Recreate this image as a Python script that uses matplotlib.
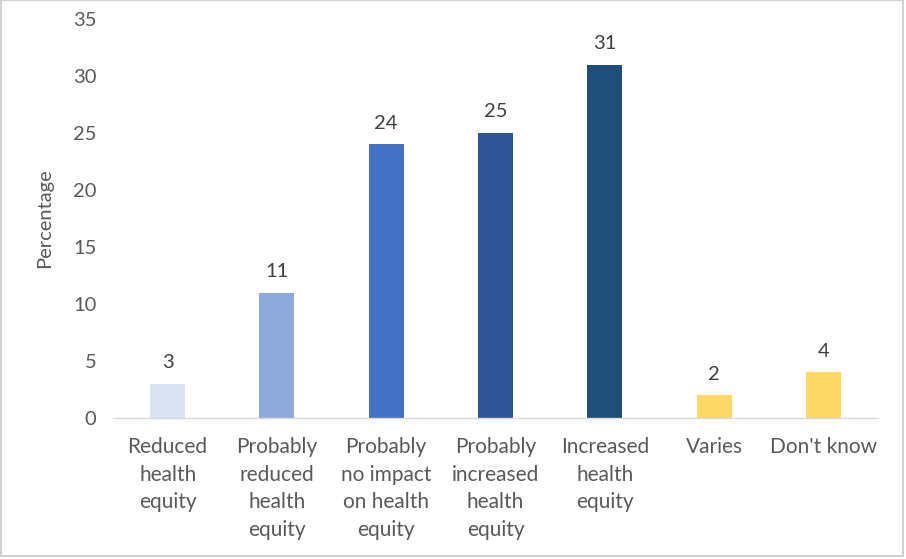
import matplotlib
matplotlib.use("Agg")
import matplotlib.pyplot as plt
from matplotlib.patches import Rectangle

categories = ["Reduced\nhealth\nequity", "Probably\nreduced\nhealth\nequity",
              "Probably\nno impact\non health\nequity", "Probably\nincreased\nhealth\nequity",
              "Increased\nhealth\nequity", "Varies", "Don't know"]
values = [3, 11, 24, 25, 31, 2, 4]
colors = ["#D9E1F2", "#8EA9DB", "#4472C4", "#2F5597", "#1F4E79", "#FFD966", "#FFD966"]
yticks = [0, 5, 10, 15, 20, 25, 30, 35]

plt.rcParams['font.family'] = ['Lato', 'DejaVu Sans']
text_color = "#595959"

fig = plt.figure(figsize=(9.06, 5.59), dpi=100)
ax = fig.add_axes([113/906, 1 - 418/559, 765/906, (418 - 19)/559])

x = range(len(categories))
bars = ax.bar(x, values, width=0.32, color=colors)
for xi, v in zip(x, values):
    ax.text(xi, v + 1.1, str(v), ha="center", va="bottom", fontsize=14.5, color="#404040")

ax.set_xlim(-0.5, len(categories) - 0.5)
ax.set_ylim(0, 35)
ax.set_yticks(yticks)
ax.set_yticklabels([str(t) for t in yticks], fontsize=14.5, color=text_color)
ax.set_xticks(list(x))
ax.set_xticklabels(categories, fontsize=15, color=text_color, linespacing=1.46, va="top")
ax.tick_params(axis="both", length=0, pad=12)
ax.tick_params(axis="x", pad=14)
ax.set_ylabel("Percentage", fontsize=14.5, color=text_color, labelpad=14)

for s in ["top", "right", "left"]:
    ax.spines[s].set_visible(False)
ax.spines["bottom"].set_color("#D9D9D9")
ax.spines["bottom"].set_linewidth(1.0)

# outer chart border
fig.patches.append(Rectangle((0.5/906, 3/559), 902/906, 556/559, transform=fig.transFigure,
                             fill=False, edgecolor="#D0D0D0", linewidth=1.5))

fig.savefig("out.png", dpi=100)
